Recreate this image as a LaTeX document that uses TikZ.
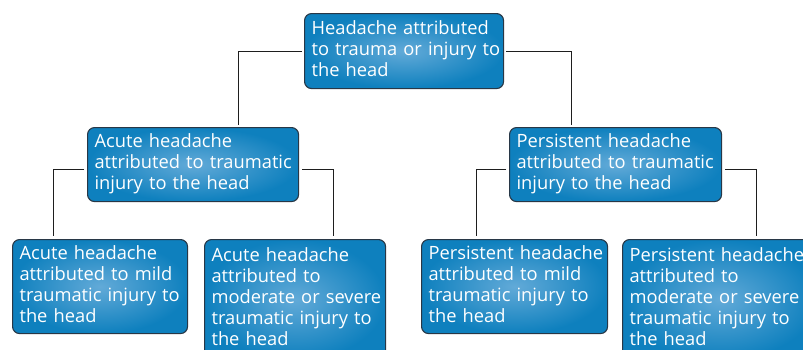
\documentclass[tikz,border=0pt]{standalone}
\usepackage{fontspec}
\setmainfont{Open Sans}
\definecolor{boxout}{RGB}{14,128,190}
\definecolor{boxin}{RGB}{98,170,216}
\definecolor{boxline}{RGB}{40,55,70}
\definecolor{connline}{RGB}{30,30,30}
\newcommand{\boxlines}[1]{\begin{tabular}{@{}l@{}}#1\end{tabular}}
\tikzset{
  box/.style={draw=boxline, line width=1.1pt, rounded corners=7pt,
    inner color=boxin, outer color=boxout, anchor=north west,
    text=white, align=left, inner xsep=7pt, inner ysep=0pt,
    font=\fontsize{18.3}{21}\selectfont},
  conn/.style={draw=connline, line width=1pt}
}
\begin{document}
\begin{tikzpicture}[x=1pt, y=-1pt]
\useasboundingbox (0,0) rectangle (803,349);
\clip (0,0) rectangle (803,349);
\node[box, minimum width=199pt, text width=185pt, minimum height=75pt] (top) at (304,13)
  {\boxlines{Headache attributed\\to trauma or injury to\\the head}};
\node[box, minimum width=211pt, text width=197pt, minimum height=74pt] (acute) at (87,127)
  {\boxlines{Acute headache\\attributed to traumatic\\injury to the head}};
\node[box, minimum width=212pt, text width=198pt, minimum height=74pt] (pers) at (509,127)
  {\boxlines{Persistent headache\\attributed to traumatic\\injury to the head}};
\node[box, minimum width=175pt, text width=161pt, minimum height=94pt] (bl) at (12,239)
  {\boxlines{Acute headache\\attributed to mild\\traumatic injury to\\the head}};
\node[box, minimum width=181pt, text width=167pt, minimum height=120pt] (br) at (204,239)
  {\boxlines{Acute headache\\attributed to\\moderate or severe\\traumatic injury to\\the head}};
\node[box, minimum width=186pt, text width=172pt, minimum height=94pt] (pl) at (421,239)
  {\boxlines{Persistent headache\\attributed to mild\\traumatic injury to\\the head}};
\node[box, minimum width=195pt, text width=181pt, minimum height=120pt] (pr) at (622,239)
  {\boxlines{Persistent headache\\attributed to\\moderate or severe\\traumatic injury to\\the head}};
\draw[conn] ([xshift=-2pt]top.west) -| ([xshift=45.5pt,yshift=2pt]acute.north);
\draw[conn] ([xshift=2pt]top.east) -| ([xshift=-44pt,yshift=2pt]pers.north);
\draw[conn] ([xshift=-3pt,yshift=-5pt]acute.west) -| ([xshift=-46.5pt,yshift=3pt]bl.north);
\draw[conn] ([xshift=3pt,yshift=-5pt]acute.east) -| ([xshift=38.5pt,yshift=3pt]br.north);
\draw[conn] ([xshift=-3pt,yshift=-5pt]pers.west) -| ([xshift=-38pt,yshift=3pt]pl.north);
\draw[conn] ([xshift=3pt,yshift=-5pt]pers.east) -| ([xshift=36.5pt,yshift=3pt]pr.north);
\end{tikzpicture}
\end{document}
